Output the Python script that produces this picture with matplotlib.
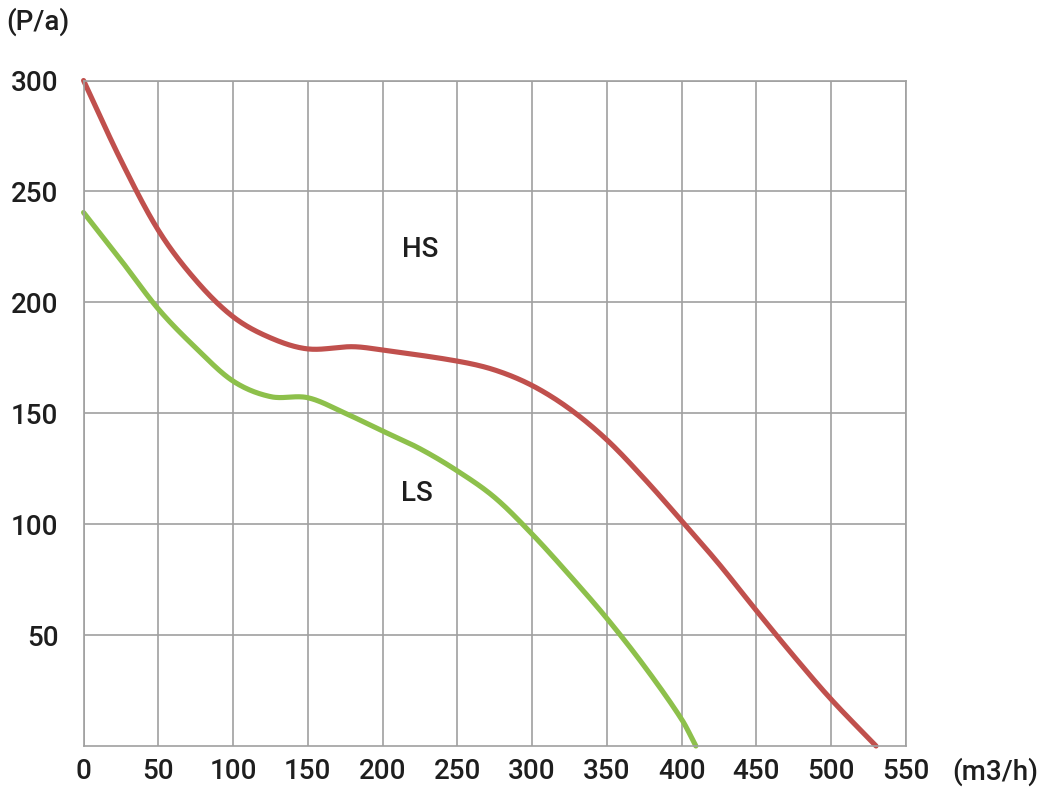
import numpy as np
import matplotlib
matplotlib.use("Agg")
import matplotlib.pyplot as plt

# Data
hs_x = [0, 25, 50, 75, 100, 125, 150, 180, 200, 250, 275, 300, 325, 350, 375, 400, 425, 450, 475, 500, 530]
hs_y = [300, 264, 232.5, 210, 193.5, 184, 179, 180, 178.5, 173.5, 169.5, 162.5, 152, 138, 120.5, 101.5, 82, 61, 40.5, 21, 0]

ls_x = [0, 25, 50, 75, 100, 125, 150, 175, 200, 225, 250, 275, 300, 325, 350, 375, 400, 409.5]
ls_y = [240.5, 219, 197, 179.5, 164.5, 157.5, 157, 150, 142, 134, 124, 112, 95.5, 77, 57.5, 36, 12, 0]

x_ticks = [0, 50, 100, 150, 200, 250, 300, 350, 400, 450, 500, 550]
y_ticks = [50, 100, 150, 200, 250, 300]


def smooth(x, y, n=30):
    """Cubic Hermite (Catmull-Rom style) rendering through the read points."""
    x = np.asarray(x, float)
    y = np.asarray(y, float)
    m = np.zeros_like(y)
    m[0] = (y[1] - y[0]) / (x[1] - x[0])
    m[-1] = (y[-1] - y[-2]) / (x[-1] - x[-2])
    m[1:-1] = (y[2:] - y[:-2]) / (x[2:] - x[:-2])
    xs, ys = [], []
    for i in range(len(x) - 1):
        h = x[i + 1] - x[i]
        t = np.linspace(0, 1, n, endpoint=False)
        h00 = 2 * t**3 - 3 * t**2 + 1
        h10 = t**3 - 2 * t**2 + t
        h01 = -2 * t**3 + 3 * t**2
        h11 = t**3 - t**2
        xs.append(x[i] + t * h)
        ys.append(h00 * y[i] + h10 * h * m[i] + h01 * y[i + 1] + h11 * h * m[i + 1])
    xs.append([x[-1]])
    ys.append([y[-1]])
    return np.concatenate(xs), np.concatenate(ys)


plt.rcParams['font.family'] = ['Roboto', 'DejaVu Sans']

fig = plt.figure(figsize=(10.38, 7.87), dpi=100)
ax = fig.add_axes([0.0805, 0.0521, 0.7923, 0.8456])

grid_c = '#a0a0a0'
txt_c = '#1e1e1e'
fs = 20
ax.set_xlim(0, 550)
ax.set_ylim(0, 300)
ax.set_xticks(x_ticks)
ax.set_yticks(y_ticks)
ax.set_xticklabels([str(v) for v in x_ticks])
ax.set_yticklabels([str(v) for v in y_ticks])
ax.grid(True, color=grid_c, linewidth=1.2)
ax.set_axisbelow(True)
for s in ax.spines.values():
    s.set_color(grid_c)
    s.set_linewidth(1.2)
ax.tick_params(axis='both', length=0, labelsize=fs, colors=txt_c)
ax.tick_params(axis='x', pad=9)
ax.tick_params(axis='y', pad=18)
for lab in ax.get_xticklabels() + ax.get_yticklabels():
    lab.set_fontweight('medium')

hx, hy = smooth(hs_x, hs_y)
lx, ly = smooth(ls_x, ls_y)
ax.plot(hx, hy, color='#c0504d', linewidth=3.7, solid_capstyle='round', clip_on=False)
ax.plot(lx, ly, color='#8dc04b', linewidth=3.7, solid_capstyle='round', clip_on=False)

ax.text(225, 224, 'HS', fontsize=fs, fontweight='medium', color=txt_c, ha='center', va='center')
ax.text(223, 114, 'LS', fontsize=fs, fontweight='medium', color=txt_c, ha='center', va='center')

fig.text(38 / 1038, 1 - 22 / 787, '(P/a)', fontsize=fs, fontweight='medium', color=txt_c, ha='center', va='center')
fig.text(995 / 1038, 1 - 772 / 787, '(m3/h)', fontsize=fs, fontweight='medium', color=txt_c, ha='center', va='center')

fig.savefig('out.png', dpi=100, facecolor='white')
